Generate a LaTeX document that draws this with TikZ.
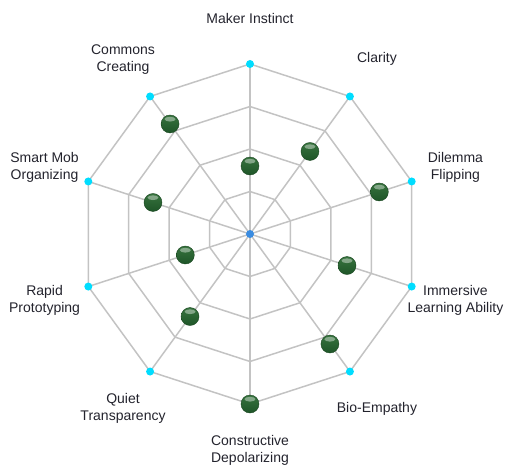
\documentclass[tikz,border=0pt]{standalone}
\usepackage{fontspec}
\setmainfont{Liberation Sans}
\definecolor{gridgray}{RGB}{195,195,195}
\definecolor{tipcyan}{RGB}{0,221,255}
\definecolor{hubblue}{RGB}{58,140,225}
\definecolor{balltop}{RGB}{55,115,62}
\definecolor{ballbottom}{RGB}{30,85,40}
\definecolor{ballrim}{RGB}{25,70,32}
\definecolor{labeltext}{RGB}{35,35,45}
\begin{document}
\begin{tikzpicture}[x=1pt,y=1pt,
  gridline/.style={draw=gridgray,line width=1.5pt},
  tipdot/.style={circle,fill=tipcyan,inner sep=0pt,minimum size=8pt},
  hubdot/.style={circle,fill=hubblue,inner sep=0pt,minimum size=8pt},
  valball/.style={circle,inner sep=0pt,minimum size=18pt,top color=balltop,bottom color=ballbottom,
    draw=ballrim,line width=0.4pt,
    path picture={\fill[white,opacity=0.4] ([yshift=-4.2pt]path picture bounding box.north) ellipse [x radius=5.5pt, y radius=2.4pt];}},
  axislabel/.style={align=center,font=\fontsize{14}{17}\selectfont,text=labeltext,inner sep=0pt}]
\useasboundingbox (-250,-235) rectangle (256,234);
\coordinate (o) at (0,0);
\foreach \k in {0,...,9} {
  \coordinate (v\k) at (90-36*\k:170);
}
% rings
\foreach \r in {42.5,85,127.5,170} {
  \draw[gridline] (90:\r) \foreach \k in {1,...,9} { -- (90-36*\k:\r) } -- cycle;
}
% spokes
\foreach \k in {0,...,9} {
  \draw[gridline] (o) -- (v\k);
}
% outer tips
\foreach \k in {0,...,9} {
  \node[tipdot] (t\k) at (v\k) {};
}
\node[hubdot] (hub) at (o) {};
% values
\foreach \k/\val in {0/0.4,1/0.6,2/0.8,3/0.6,4/0.8,5/1.0,6/0.6,7/0.4,8/0.6,9/0.8} {
  \node[valball] (b\k) at (90-36*\k:170*\val) {};
}
% labels
\foreach \k/\txt in {0/{Maker Instinct},1/{Clarity},2/{Dilemma\\Flipping},3/{Immersive\\Learning Ability},4/{Bio-Empathy},5/{Constructive\\Depolarizing},6/{Quiet\\Transparency},7/{Rapid\\Prototyping},8/{Smart Mob\\Organizing},9/{Commons\\Creating}} {
  \node[axislabel] (l\k) at (90-36*\k:216) {\txt};
}
\end{tikzpicture}
\end{document}
